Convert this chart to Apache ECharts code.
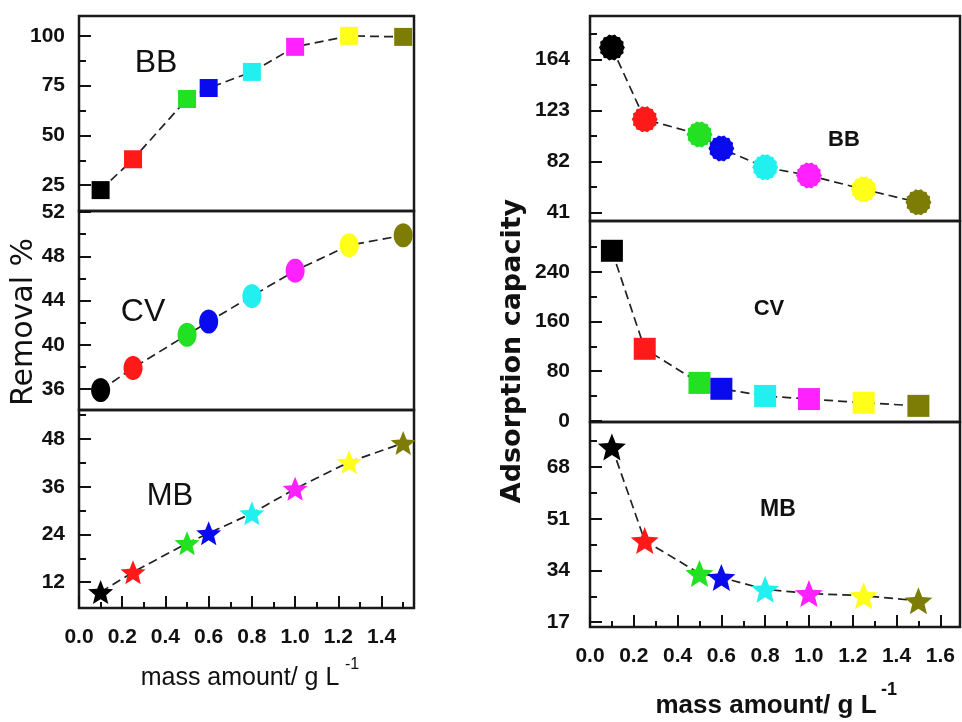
<!DOCTYPE html>
<html>
<head>
<meta charset="utf-8">
<script src="https://cdn.jsdelivr.net/npm/echarts@6/dist/echarts.min.js"></script>
<style>html,body{margin:0;padding:0;background:#fff;}#c{width:962px;height:722px;}</style>
</head>
<body>
<div id="c"></div>
<script>
// ---- data ----
const massAmount = [0.1, 0.25, 0.5, 0.6, 0.8, 1.0, 1.25, 1.5];
const pointColors = ['#000000', '#ff1a1a', '#22e022', '#0a0aee', '#22f0f0', '#ff22ff', '#ffff1a', '#7d7d05'];
const removalBB = [22.5, 38, 68.3, 73.8, 81.9, 94.5, 100, 99.5];
const removalCV = [35.9, 37.9, 40.9, 42.1, 44.4, 46.7, 49.0, 49.9];
const removalMB = [9.5, 14.5, 21.8, 24.3, 29.3, 35.5, 42.2, 47.0];
const capacityBB = [173.6, 115.8, 103.7, 92.4, 77.2, 70.7, 59.5, 49.0];
const capacityCV = [274, 116, 61, 51.5, 40, 35, 29, 24];
const capacityMB = [74.6, 43.8, 33.0, 31.7, 27.8, 26.4, 25.7, 24.0];

const leftXTicks = [0, 0.2, 0.4, 0.6, 0.8, 1.0, 1.2, 1.4];
const leftXMinor = [0.1, 0.3, 0.5, 0.7, 0.9, 1.1, 1.3, 1.5];
const rightXTicks = [0, 0.2, 0.4, 0.6, 0.8, 1.0, 1.2, 1.4, 1.6];
const rightXMinor = [0.1, 0.3, 0.5, 0.7, 0.9, 1.1, 1.3, 1.5];

const ticksRemBB = [25, 50, 75, 100];     const minorRemBB = [37.5, 62.5, 87.5];
const ticksRemCV = [36, 40, 44, 48, 52];  const minorRemCV = [38, 42, 46, 50];
const ticksRemMB = [12, 24, 36, 48];      const minorRemMB = [18, 30, 42, 54];
const ticksCapBB = [41, 82, 123, 164];    const minorCapBB = [61.5, 102.5, 143.5, 184.5];
const ticksCapCV = [0, 80, 160, 240];     const minorCapCV = [40, 120, 200, 280];
const ticksCapMB = [17, 34, 51, 68];      const minorCapMB = [25.5, 42.5, 59.5, 76.5];

// ---- symbol shapes ----
function polyPath(n, rOuter, rInner, start) {
  let d = '';
  for (let k = 0; k < n; k++) {
    const a = (start || 0) + k * 2 * Math.PI / n;
    const r = (k % 2) ? rInner : rOuter;
    d += (k ? 'L' : 'M') + (50 + r * Math.cos(a)).toFixed(2) + ' ' + (50 + r * Math.sin(a)).toFixed(2);
  }
  return 'path://' + d + 'Z';
}
const ellipseSym = polyPath(48, 50, 50, 0);
const gearSym = polyPath(28, 50, 45, 0);
const starSym = polyPath(10, 50, 22, -Math.PI / 2);

const FONT = "'Liberation Sans', Arial, sans-serif";
const LEFT = { left: 79, width: 335 };
const RIGHT = { left: 590, width: 370 };

const panels = [
  { g: LEFT, top: 16, height: 195, ymin: 12, ymax: 110, yt: ticksRemBB, ym: minorRemBB, data: removalBB, sym: 'rect', size: 18, xmax: 1.55, xt: leftXTicks, xm: leftXMinor, showX: false, lm: 14 },
  { g: LEFT, top: 211, height: 199, ymin: 34.1, ymax: 52.1, yt: ticksRemCV, ym: minorRemCV, data: removalCV, sym: ellipseSym, size: [19, 24], xmax: 1.55, xt: leftXTicks, xm: leftXMinor, showX: false, lm: 14 },
  { g: LEFT, top: 410, height: 198, ymin: 5.5, ymax: 55.3, yt: ticksRemMB, ym: minorRemMB, data: removalMB, sym: starSym, size: [25, 24], xmax: 1.55, xt: leftXTicks, xm: leftXMinor, showX: true, lm: 14 },
  { g: RIGHT, top: 16, height: 205, ymin: 34, ymax: 199, yt: ticksCapBB, ym: minorCapBB, data: capacityBB, sym: gearSym, size: 26, xmax: 1.69, xt: rightXTicks, xm: rightXMinor, showX: false, lm: 20 },
  { g: RIGHT, top: 221, height: 201, ymin: -2, ymax: 322, yt: ticksCapCV, ym: minorCapCV, data: capacityCV, sym: 'rect', size: 22, xmax: 1.69, xt: rightXTicks, xm: rightXMinor, showX: false, lm: 20 },
  { g: RIGHT, top: 422, height: 205, ymin: 15.4, ymax: 82.8, yt: ticksCapMB, ym: minorCapMB, data: capacityMB, sym: starSym, size: [28, 27], xmax: 1.69, xt: rightXTicks, xm: rightXMinor, showX: true, lm: 20 }
];

const grid = [], xAxis = [], yAxis = [], series = [];
panels.forEach((p, i) => {
  grid.push({ left: p.g.left, width: p.g.width, top: p.top, height: p.height, show: true,
    borderColor: '#1a1a1a', borderWidth: 2.5, backgroundColor: 'transparent', containLabel: false, outerBoundsMode: 'none' });
  const labelStyle = { color: '#111', fontFamily: FONT, fontWeight: 'bold', fontSize: 21 };
  xAxis.push({ type: 'value', gridIndex: i, min: 0, max: p.xmax, position: 'bottom',
    axisLine: { show: false }, splitLine: { show: false },
    axisTick: { show: p.showX, inside: true, length: 12, customValues: p.xt, lineStyle: { color: '#111', width: 2 } },
    axisLabel: { show: p.showX, customValues: p.xt, margin: 19, formatter: v => v.toFixed(1), ...labelStyle } });
  xAxis.push({ type: 'value', gridIndex: i, min: 0, max: p.xmax, position: 'bottom',
    axisLine: { show: false }, splitLine: { show: false }, axisLabel: { show: false },
    axisTick: { show: p.showX, inside: true, length: 6, customValues: p.xm, lineStyle: { color: '#111', width: 2 } } });
  yAxis.push({ type: 'value', gridIndex: i, min: p.ymin, max: p.ymax, position: 'left',
    axisLine: { show: false }, splitLine: { show: false },
    axisTick: { show: true, inside: true, length: 12, customValues: p.yt, lineStyle: { color: '#111', width: 2 } },
    axisLabel: { show: true, customValues: p.yt, margin: p.lm, ...labelStyle } });
  yAxis.push({ type: 'value', gridIndex: i, min: p.ymin, max: p.ymax, position: 'left',
    axisLine: { show: false }, splitLine: { show: false }, axisLabel: { show: false },
    axisTick: { show: true, inside: true, length: 7, customValues: p.ym, lineStyle: { color: '#111', width: 2 } } });
  series.push({
    type: 'line', xAxisIndex: 2 * i, yAxisIndex: 2 * i,
    symbol: p.sym, symbolSize: p.size, showSymbol: true, clip: false,
    lineStyle: { type: [9, 5], width: 1.7, color: '#222' },
    emphasis: { disabled: true },
    data: massAmount.map((x, k) => ({ value: [x, p.data[k]], itemStyle: { color: pointColors[k], opacity: 1 } }))
  });
});

function txt(x, y, text, font, rot) {
  return { type: 'text', x: x, y: y, rotation: rot || 0, silent: true,
    style: { text: text, font: font, fill: '#111', align: 'center', verticalAlign: 'middle' } };
}

const graphic = [
  txt(156, 63, 'BB', "32px 'Liberation Sans', Arial"),
  txt(143, 312, 'CV', "32px 'Liberation Sans', Arial"),
  txt(170, 496, 'MB', "31px 'Liberation Sans', Arial"),
  txt(844, 140, 'BB', "bold 22px 'Liberation Sans', Arial"),
  txt(769, 309, 'CV', "bold 22px 'Liberation Sans', Arial"),
  txt(778, 510, 'MB', "bold 23px 'Liberation Sans', Arial"),
  txt(24, 322, 'Removal %', "30px 'DejaVu Sans'", Math.PI / 2),
  txt(513, 351, 'Adsorption capacity', "bold 27px 'DejaVu Sans'", Math.PI / 2),
  txt(240, 678, 'mass amount/ g L', "25px 'Liberation Sans', Arial"),
  txt(352, 665, '-1', "16px 'Liberation Sans', Arial"),
  txt(766, 706, 'mass amount/ g L', "bold 26px 'Liberation Sans', Arial"),
  txt(889, 690, '-1', "bold 18px 'Liberation Sans', Arial")
];

const chart = echarts.init(document.getElementById('c'), null, { renderer: 'canvas' });
chart.setOption({
  animation: false,
  backgroundColor: '#ffffff',
  grid: grid, xAxis: xAxis, yAxis: yAxis, series: series, graphic: graphic,
  tooltip: { show: false }, legend: { show: false }
});
</script>
</body>
</html>
